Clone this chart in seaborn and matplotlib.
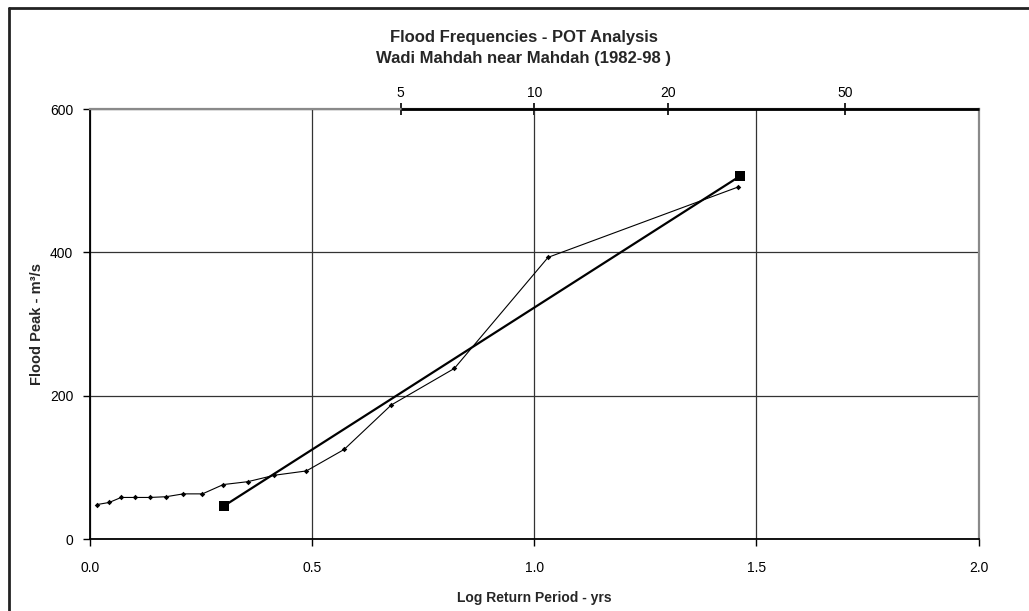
import numpy as np
import pandas as pd
import matplotlib
matplotlib.use("Agg")
import matplotlib.pyplot as plt
from matplotlib.lines import Line2D
import seaborn as sns

# POT series: log10 of return period vs flood peak
log_return_period = [0.015, 0.043, 0.070, 0.101, 0.134, 0.171, 0.210, 0.253, 0.300,
                     0.355, 0.415, 0.487, 0.572, 0.678, 0.820, 1.031, 1.458]
flood_peak = [48, 51, 58, 58, 58, 59, 63, 63, 76, 80, 89, 95, 125, 187, 238, 393, 491]

# fitted line end points
fit_log_rp = [0.301, 1.462]
fit_peak = [46, 506]

x_ticks = [0.0, 0.5, 1.0, 1.5, 2.0]
y_ticks = [0, 200, 400, 600]
top_ticks = [5, 10, 20, 50]

sns.set_style("white")
plt.rcParams["font.family"] = ["Liberation Sans", "DejaVu Sans"]

df = pd.DataFrame({"logT": log_return_period, "Q": flood_peak})
fit = pd.DataFrame({"logT": fit_log_rp, "Q": fit_peak})

fig = plt.figure(figsize=(10.29, 6.11), dpi=100)
ax = fig.add_axes([0.0875, 0.1178, 0.8635, 0.7038])

sns.lineplot(data=df, x="logT", y="Q", ax=ax, sort=False, estimator=None,
             color="black", linewidth=0.8, marker="D", markersize=2.8,
             markeredgewidth=0, zorder=4)
sns.lineplot(data=fit, x="logT", y="Q", ax=ax, sort=False, estimator=None,
             color="black", linewidth=1.6, marker="s", markersize=7,
             markeredgewidth=0, zorder=5)

ax.set_xlim(0, 2.0)
ax.set_ylim(0, 600)
ax.set_xticks(x_ticks)
ax.set_yticks(y_ticks)
ax.set_xticklabels([f"{v:.1f}" for v in x_ticks])
ax.grid(True, color="#333333", linewidth=0.9)
ax.tick_params(axis="both", direction="out", length=5, width=1, labelsize=10,
               colors="black", bottom=True, left=True)
ax.tick_params(axis="x", pad=11)
ax.tick_params(axis="y", pad=7)

for s in ["left", "bottom"]:
    ax.spines[s].set_color("black")
    ax.spines[s].set_linewidth(1.3)
for s in ["top", "right"]:
    ax.spines[s].set_color("#8a8a8a")
    ax.spines[s].set_linewidth(1.6)

ax.set_xlabel("Log Return Period - yrs", fontsize=10, fontweight="bold", labelpad=11)
ax.set_ylabel("Flood Peak - m³/s", fontsize=10.5, fontweight="bold", labelpad=4)

# return period scale along the top
sec = ax.secondary_xaxis("top", functions=(lambda x: 10 ** x, np.log10))
sec.set_xticks(top_ticks)
sec.set_xticklabels([str(t) for t in top_ticks])
sec.tick_params(direction="inout", length=9, width=1.2, labelsize=10, pad=2,
                colors="black")
sec.spines["top"].set_visible(False)
ax.hlines(y_ticks[-1], np.log10(top_ticks[0]), x_ticks[-1], color="black",
          linewidth=2, clip_on=False, zorder=6)

fig.text(524 / 1029, 1 - 42 / 611, "Flood Frequencies - POT Analysis",
         ha="center", va="baseline", fontsize=12, fontweight="bold")
fig.text(524 / 1029, 1 - 63 / 611, "Wadi Mahdah near Mahdah (1982-98 )",
         ha="center", va="baseline", fontsize=12, fontweight="bold")

# outer frame (left and top edges)
fig.add_artist(Line2D([9 / 1029, 9 / 1029], [0, 1 - 8 / 611], color="#222222", linewidth=2))
fig.add_artist(Line2D([9 / 1029, 1], [1 - 8 / 611, 1 - 8 / 611], color="#222222", linewidth=2))

fig.savefig("out.png", dpi=100)
